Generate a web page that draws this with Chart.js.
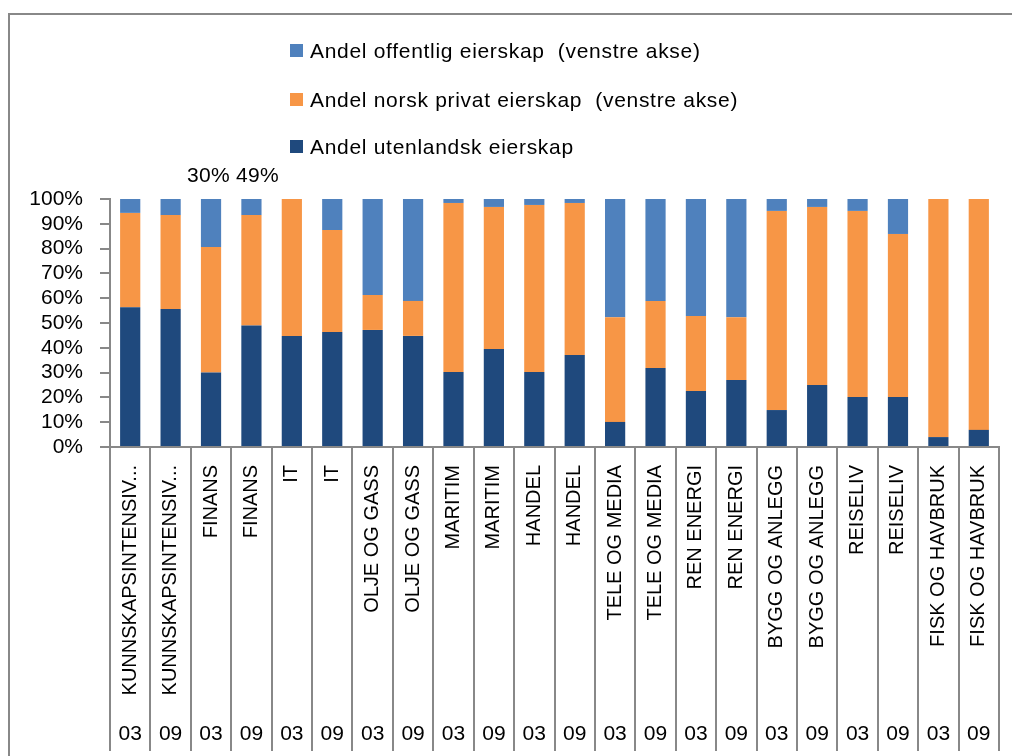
<!DOCTYPE html>
<html>
<head>
<meta charset="utf-8">
<script src="https://cdn.jsdelivr.net/npm/chart.js@4.4.1/dist/chart.umd.min.js"></script>
<style>
  html, body { margin: 0; padding: 0; background: #fff; overflow: hidden; }
  #wrap { position: relative; width: 1012px; height: 756px; overflow: hidden; background: #fff; }
  #c { position: absolute; left: 0; top: 0; }
  #frame { position: absolute; left: 8px; top: 13px; width: 1300px; height: 900px;
           border-left: 2px solid #888; border-top: 2px solid #888; pointer-events: none; }
  #legend { position: absolute; left: 290px; top: 0; font-family: 'Liberation Sans', Arial, sans-serif;
            font-size: 21px; color: #000; letter-spacing: 0.7px; }
  .li { position: absolute; left: 0; white-space: pre; height: 24px; line-height: 24px; }
  .sw { position: absolute; left: 0; top: 5px; width: 13px; height: 13px; }
  .tx { position: absolute; left: 20px; top: 0; white-space: pre; }
  #note { position: absolute; left: 187px; top: 162px; font-family: 'Liberation Sans', Arial, sans-serif;
          font-size: 21px; color: #000; white-space: pre; line-height: 26px; letter-spacing: 0.3px; }
</style>
</head>
<body>
<div id="wrap">
  <canvas id="c" width="1012" height="756"></canvas>
  <div id="frame"></div>
  <div id="legend"></div>
  <div id="note">30% 49%</div>
</div>
<script>
const categories = ['KUNNSKAPSINTENSIV...', 'KUNNSKAPSINTENSIV...', 'FINANS', 'FINANS', 'IT', 'IT',
  'OLJE OG GASS', 'OLJE OG GASS', 'MARITIM', 'MARITIM', 'HANDEL', 'HANDEL',
  'TELE OG MEDIA', 'TELE OG MEDIA', 'REN ENERGI', 'REN ENERGI', 'BYGG OG ANLEGG', 'BYGG OG ANLEGG',
  'REISELIV', 'REISELIV', 'FISK OG HAVBRUK', 'FISK OG HAVBRUK'];
const years = ['03', '09', '03', '09', '03', '09', '03', '09', '03', '09', '03', '09',
  '03', '09', '03', '09', '03', '09', '03', '09', '03', '09'];
const utenlandsk = [56.4, 55.6, 30.0, 49.0, 44.8, 46.4, 47.2, 44.8, 30.2, 39.5, 30.2, 37.1,
  10.1, 31.9, 22.6, 27.0, 14.9, 25.0, 20.2, 20.2, 4.0, 6.9];
const norsk = [38.0, 37.9, 50.6, 44.5, 55.2, 41.1, 14.1, 14.1, 68.2, 57.3, 67.4, 61.3,
  42.2, 27.0, 30.2, 25.3, 80.3, 71.8, 75.0, 65.7, 96.0, 93.1];
const offentlig = [5.6, 6.5, 19.4, 6.5, 0, 12.5, 38.7, 41.1, 1.6, 3.2, 2.4, 1.6,
  47.7, 41.1, 47.2, 47.7, 4.8, 3.2, 4.8, 14.1, 0, 0];
const yTicks = [0, 10, 20, 30, 40, 50, 60, 70, 80, 90, 100];

const FONT = "'Liberation Sans', Arial, sans-serif";
const AXIS = '#888888';

const chart = new Chart(document.getElementById('c'), {
  type: 'bar',
  data: {
    labels: categories,
    datasets: [
      { label: 'Andel utenlandsk eierskap', data: utenlandsk, backgroundColor: '#1F497D' },
      { label: 'Andel norsk privat eierskap  (venstre akse)', data: norsk, backgroundColor: '#F79646' },
      { label: 'Andel offentlig eierskap  (venstre akse)', data: offentlig, backgroundColor: '#4F81BD' }
    ]
  },
  options: {
    responsive: false,
    animation: false,
    devicePixelRatio: 1,
    datasets: { bar: { categoryPercentage: 1, barPercentage: 0.5, borderWidth: 0 } },
    layout: { padding: { left: 0, right: 13, top: 199, bottom: 5 } },
    plugins: { legend: { display: false }, tooltip: { enabled: false }, title: { display: false } },
    scales: {
      x: {
        type: 'category',
        stacked: true,
        offset: true,
        position: 'bottom',
        weight: 0,
        grid: { offset: true, drawOnChartArea: false, drawTicks: true, tickLength: 270, color: AXIS, lineWidth: 2 },
        border: { display: true, color: AXIS, width: 2 },
        ticks: { autoSkip: false, minRotation: 90, maxRotation: 90, padding: -252,
                 color: '#000', font: { family: FONT, size: 20 } },
        afterFit: (s) => { s.height = 270; }
      },
      x2: {
        type: 'category',
        labels: years,
        offset: true,
        position: 'bottom',
        weight: 1,
        grid: { offset: true, drawOnChartArea: false, drawTicks: true, tickLength: 34, color: AXIS, lineWidth: 2 },
        border: { display: false },
        ticks: { autoSkip: false, maxRotation: 0, minRotation: 0, padding: -29,
                 color: '#000', font: { family: FONT, size: 21 } },
        afterFit: (s) => { s.height = 34; }
      },
      y: {
        stacked: true,
        min: 0,
        max: 100,
        afterBuildTicks: (s) => { s.ticks = yTicks.map(v => ({ value: v })); },
        grid: { drawOnChartArea: false, drawTicks: true, tickLength: 10, color: AXIS, lineWidth: 2 },
        border: { display: true, color: AXIS, width: 2 },
        ticks: { autoSkip: false, padding: 17, color: '#000', font: { family: FONT, size: 21 },
                 callback: (v) => v + '%' },
        afterFit: (s) => { s.width = 110; }
      }
    }
  }
});

// HTML legend built from the chart's datasets (top to bottom: offentlig, norsk, utenlandsk)
const legendTops = [39, 88, 135];
const leg = document.getElementById('legend');
chart.data.datasets.slice().reverse().forEach((ds, i) => {
  const row = document.createElement('div');
  row.className = 'li';
  row.style.top = legendTops[i] + 'px';
  const sw = document.createElement('span');
  sw.className = 'sw';
  sw.style.background = ds.backgroundColor;
  const tx = document.createElement('span');
  tx.className = 'tx';
  tx.textContent = ds.label;
  row.appendChild(sw);
  row.appendChild(tx);
  leg.appendChild(row);
});
</script>
</body>
</html>
